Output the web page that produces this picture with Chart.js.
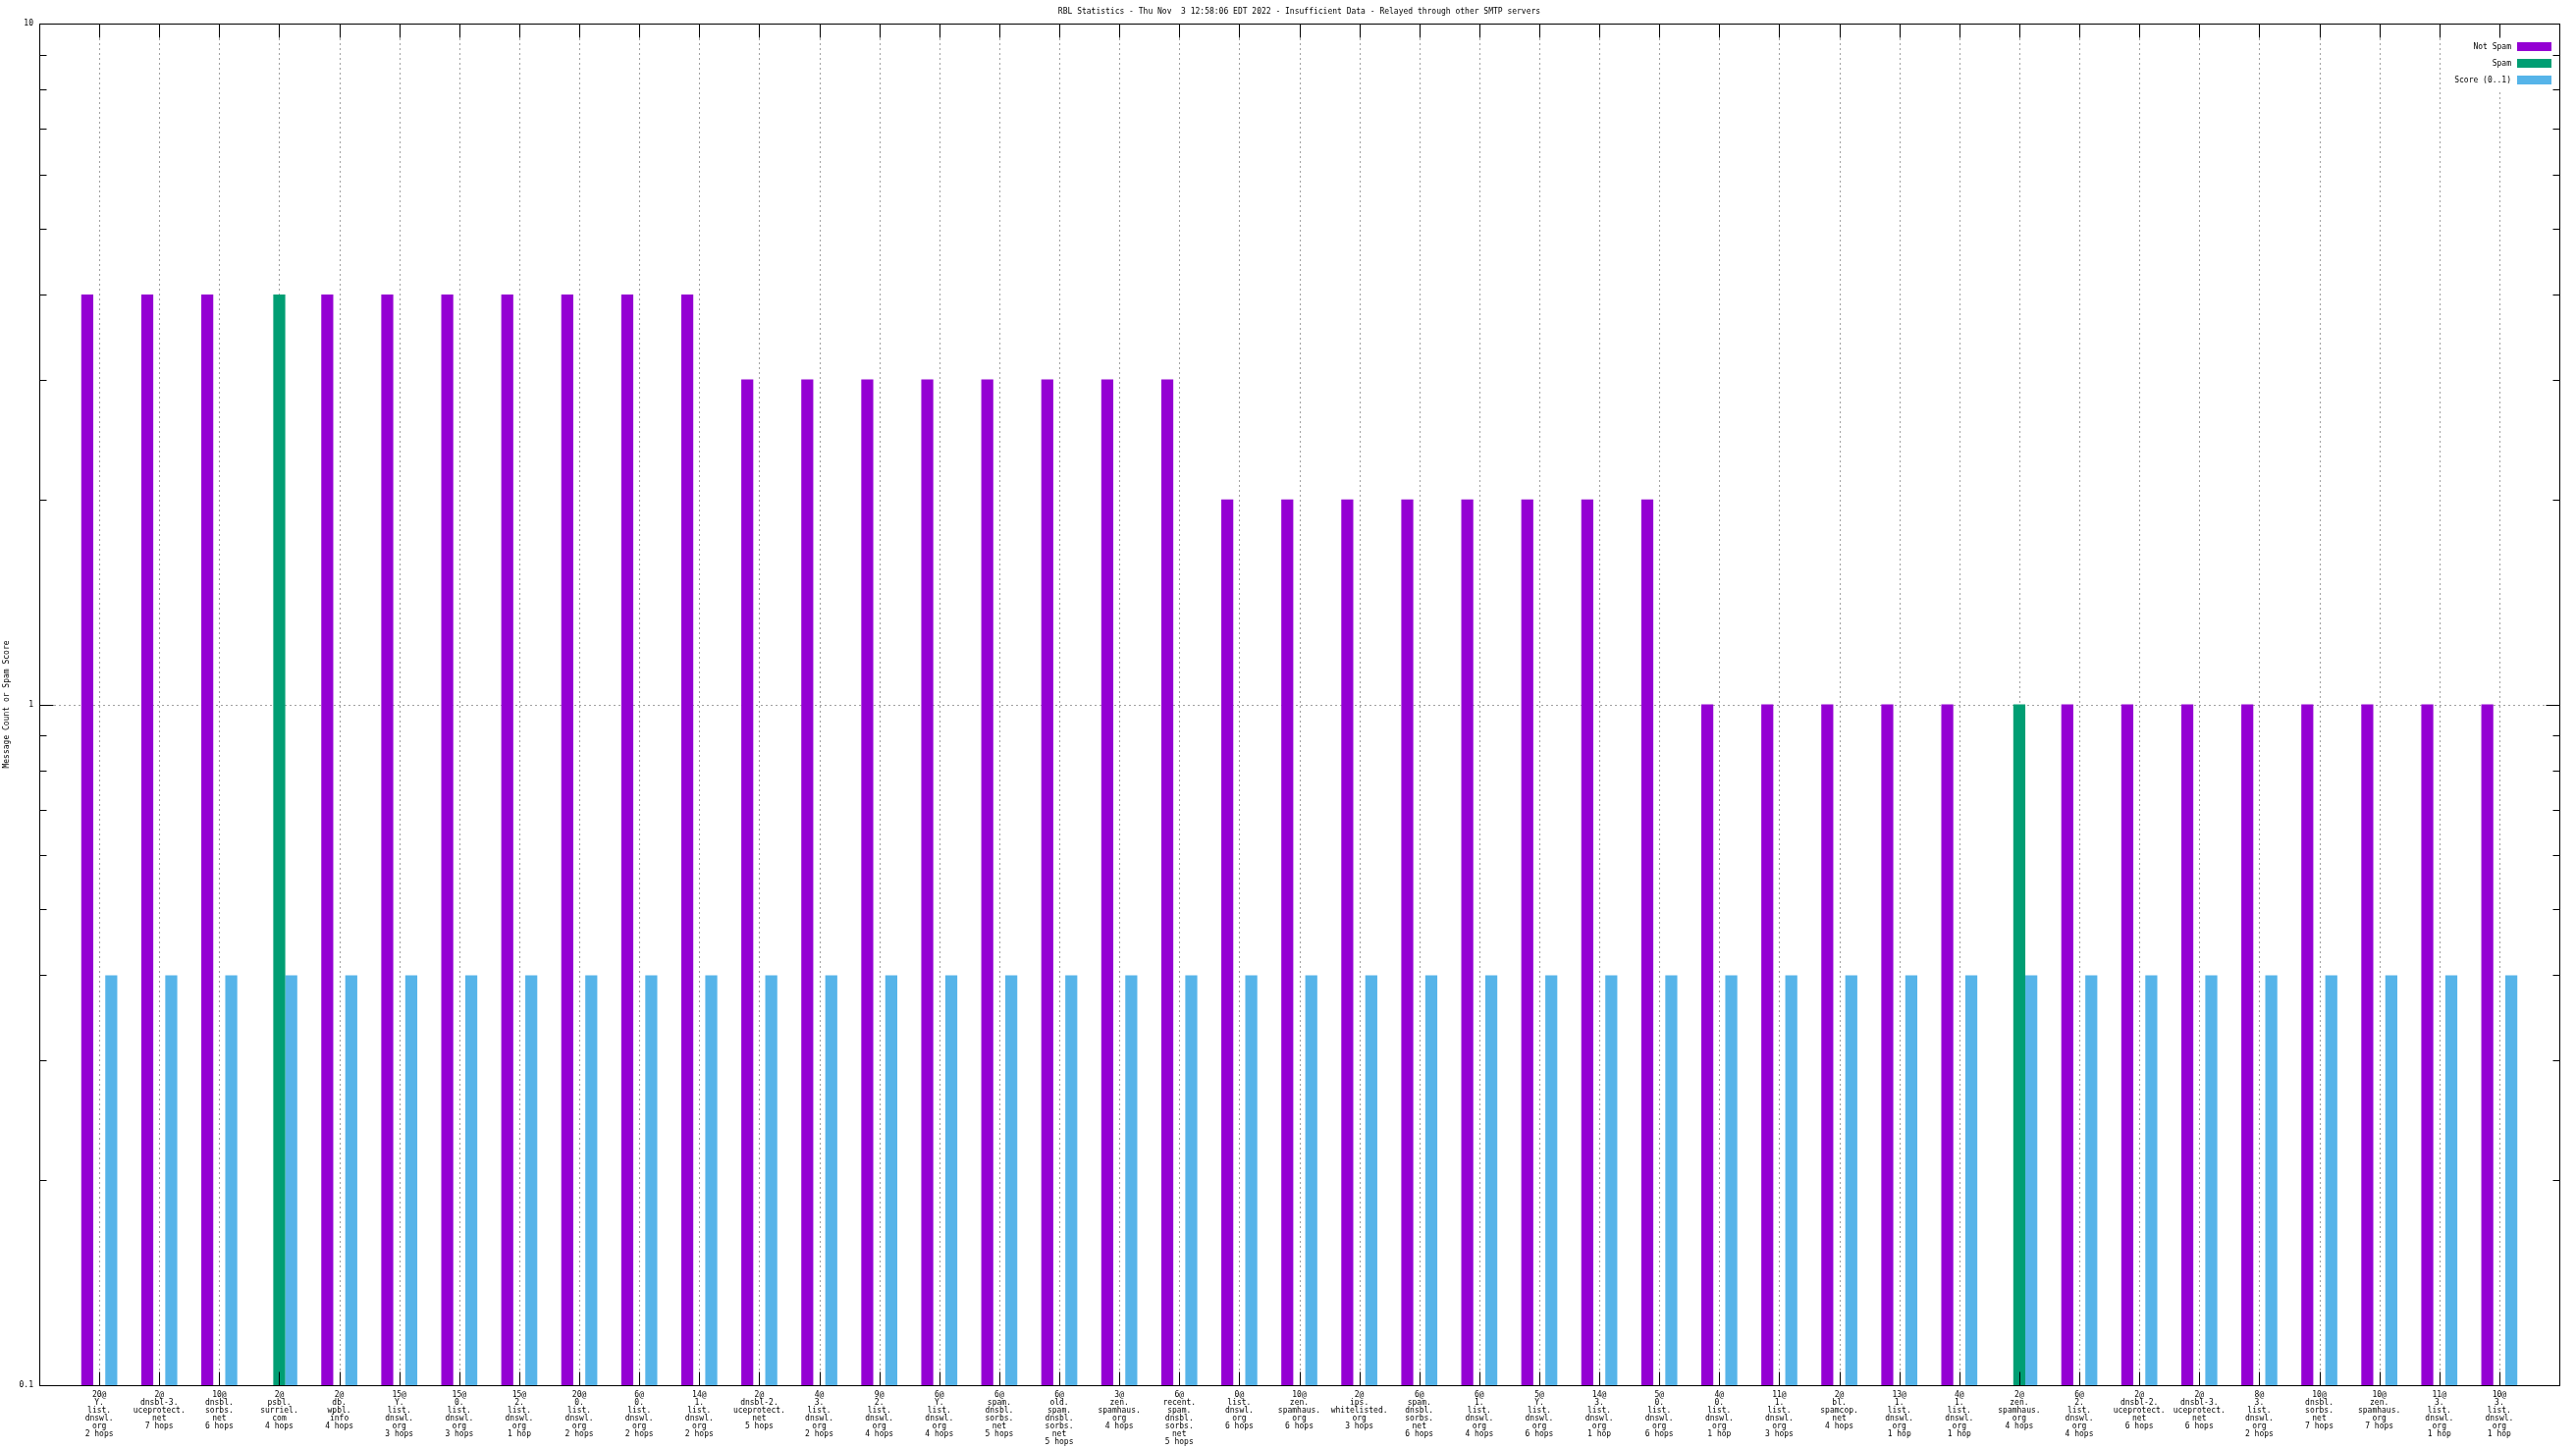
<!DOCTYPE html>
<html><head><meta charset="utf-8">
<script src="https://cdn.jsdelivr.net/npm/chart.js@4/dist/chart.umd.min.js"></script>
<style>html,body{margin:0;padding:0;background:#fff;overflow:hidden}canvas{display:block}</style>
</head><body>
<canvas id="c" width="2624" height="1476"></canvas>
<script>
const titleText = 'RBL Statistics - Thu Nov  3 12:58:06 EDT 2022 - Insufficient Data - Relayed through other SMTP servers';
const yAxisTitle = 'Message Count or Spam Score';
const seriesNames = ['Not Spam', 'Spam', 'Score (0..1)'];

const categories = [
  ['20@','Y.','list.','dnswl.','org','2 hops'],
  ['2@','dnsbl-3.','uceprotect.','net','7 hops'],
  ['10@','dnsbl.','sorbs.','net','6 hops'],
  ['2@','psbl.','surriel.','com','4 hops'],
  ['2@','db.','wpbl.','info','4 hops'],
  ['15@','Y.','list.','dnswl.','org','3 hops'],
  ['15@','0.','list.','dnswl.','org','3 hops'],
  ['15@','2.','list.','dnswl.','org','1 hop'],
  ['20@','0.','list.','dnswl.','org','2 hops'],
  ['6@','0.','list.','dnswl.','org','2 hops'],
  ['14@','1.','list.','dnswl.','org','2 hops'],
  ['2@','dnsbl-2.','uceprotect.','net','5 hops'],
  ['4@','3.','list.','dnswl.','org','2 hops'],
  ['9@','2.','list.','dnswl.','org','4 hops'],
  ['6@','Y.','list.','dnswl.','org','4 hops'],
  ['6@','spam.','dnsbl.','sorbs.','net','5 hops'],
  ['6@','old.','spam.','dnsbl.','sorbs.','net','5 hops'],
  ['3@','zen.','spamhaus.','org','4 hops'],
  ['6@','recent.','spam.','dnsbl.','sorbs.','net','5 hops'],
  ['0@','list.','dnswl.','org','6 hops'],
  ['10@','zen.','spamhaus.','org','6 hops'],
  ['2@','ips.','whitelisted.','org','3 hops'],
  ['6@','spam.','dnsbl.','sorbs.','net','6 hops'],
  ['6@','1.','list.','dnswl.','org','4 hops'],
  ['5@','Y.','list.','dnswl.','org','6 hops'],
  ['14@','3.','list.','dnswl.','org','1 hop'],
  ['5@','0.','list.','dnswl.','org','6 hops'],
  ['4@','0.','list.','dnswl.','org','1 hop'],
  ['11@','1.','list.','dnswl.','org','3 hops'],
  ['2@','bl.','spamcop.','net','4 hops'],
  ['13@','1.','list.','dnswl.','org','1 hop'],
  ['4@','1.','list.','dnswl.','org','1 hop'],
  ['2@','zen.','spamhaus.','org','4 hops'],
  ['6@','2.','list.','dnswl.','org','4 hops'],
  ['2@','dnsbl-2.','uceprotect.','net','6 hops'],
  ['2@','dnsbl-3.','uceprotect.','net','6 hops'],
  ['8@','3.','list.','dnswl.','org','2 hops'],
  ['10@','dnsbl.','sorbs.','net','7 hops'],
  ['10@','zen.','spamhaus.','org','7 hops'],
  ['11@','3.','list.','dnswl.','org','1 hop'],
  ['10@','3.','list.','dnswl.','org','1 hop']
];

const notSpam = [4,4,4,null,4,4,4,4,4,4,4, 3,3,3,3,3,3,3,3, 2,2,2,2,2,2,2,2, 1,1,1,1,1,null,1,1,1,1,1,1,1,1];
const spam    = [null,null,null,4,null,null,null,null,null,null,null, null,null,null,null,null,null,null,null, null,null,null,null,null,null,null,null, null,null,null,null,null,1,null,null,null,null,null,null,null,null];
const score   = [0.4,0.4,0.4,0.4,0.4,0.4,0.4,0.4,0.4,0.4,0.4, 0.4,0.4,0.4,0.4,0.4,0.4,0.4,0.4, 0.4,0.4,0.4,0.4,0.4,0.4,0.4,0.4, 0.4,0.4,0.4,0.4,0.4,0.4,0.4,0.4,0.4,0.4,0.4,0.4,0.4,0.4];

const yTickValues = [0.1, 1, 10];
const yMinorValues = [0.2,0.3,0.4,0.5,0.6,0.7,0.8,0.9,2,3,4,5,6,7,8,9];

const COLORS = ['#9400d3', '#009e73', '#56b4e9'];
const FONT = "'DejaVu Sans Mono', 'Liberation Mono', monospace";

const toPoints = arr => arr.map((v, i) => ({x: i, y: v}));

const gnuplotPlugin = {
  id: 'gnuplotDecor',
  beforeDatasetsDraw(chart) {
    const {ctx, chartArea: a, scales: {x, y}} = chart;
    ctx.save();
    ctx.strokeStyle = '#a0a0a0';
    ctx.lineWidth = 1;
    ctx.setLineDash([2, 3]);
    categories.forEach((c, i) => {
      const px = Math.round(x.getPixelForValue(i)) + 0.5;
      ctx.beginPath(); ctx.moveTo(px, a.top); ctx.lineTo(px, a.bottom); ctx.stroke();
    });
    yTickValues.forEach(v => {
      const py = Math.round(y.getPixelForValue(v)) + 0.5;
      ctx.beginPath(); ctx.moveTo(a.left, py); ctx.lineTo(a.right, py); ctx.stroke();
    });
    ctx.restore();
  },
  afterDatasetsDraw(chart) {
    const {ctx, chartArea: a, scales: {x, y}} = chart;
    ctx.save();
    // legend (opaque)
    ctx.fillStyle = '#fff';
    ctx.fillRect(a.right - 117, a.top + 1, 116, 67);
    ctx.font = '8px ' + FONT;
    ctx.textAlign = 'right';
    ctx.textBaseline = 'middle';
    chart.data.datasets.forEach((ds, i) => {
      const cy = a.top + 23.5 + i * 17;
      ctx.fillStyle = '#000';
      ctx.fillText(ds.label, a.right - 49, cy + 0.5);
      ctx.fillStyle = ds.backgroundColor;
      ctx.fillRect(a.right - 43, Math.round(cy - 4.5), 35, 9);
    });
    // border
    ctx.strokeStyle = '#000';
    ctx.lineWidth = 1;
    ctx.setLineDash([]);
    const L = Math.round(a.left) + 0.5, R = Math.round(a.right) + 0.5;
    const T = Math.round(a.top) + 0.5, B = Math.round(a.bottom) + 0.5;
    ctx.strokeRect(L, T, R - L, B - T);
    ctx.beginPath();
    categories.forEach((c, i) => {
      const px = Math.round(x.getPixelForValue(i)) + 0.5;
      ctx.moveTo(px, B); ctx.lineTo(px, B - 14);
      ctx.moveTo(px, T); ctx.lineTo(px, T + 14);
    });
    yTickValues.forEach(v => {
      const py = Math.round(y.getPixelForValue(v)) + 0.5;
      ctx.moveTo(L, py); ctx.lineTo(L + 14, py);
      ctx.moveTo(R, py); ctx.lineTo(R - 14, py);
    });
    yMinorValues.forEach(v => {
      const py = Math.round(y.getPixelForValue(v)) + 0.5;
      ctx.moveTo(L, py); ctx.lineTo(L + 7, py);
      ctx.moveTo(R, py); ctx.lineTo(R - 7, py);
    });
    ctx.stroke();
    // title
    ctx.fillStyle = '#000';
    ctx.textAlign = 'center';
    ctx.textBaseline = 'middle';
    ctx.font = '8px ' + FONT;
    ctx.fillText(titleText, (a.left + a.right) / 2, 12);
    ctx.restore();
  }
};

Chart.defaults.color = '#000';
Chart.defaults.font.family = FONT;

new Chart(document.getElementById('c'), {
  type: 'bar',
  data: {
    datasets: [
      {label: seriesNames[0], data: toPoints(notSpam), backgroundColor: COLORS[0]},
      {label: seriesNames[1], data: toPoints(spam), backgroundColor: COLORS[1]},
      {label: seriesNames[2], data: toPoints(score), backgroundColor: COLORS[2]}
    ]
  },
  options: {
    responsive: false,
    animation: false,
    devicePixelRatio: 1,
    layout: {padding: {top: 24, right: 17, left: 0, bottom: 0}},
    datasets: {bar: {barPercentage: 1.0, categoryPercentage: 0.6, borderWidth: 0}},
    plugins: {legend: {display: false}, title: {display: false}, tooltip: {enabled: false}},
    scales: {
      x: {
        type: 'linear',
        offset: false,
        min: -1, max: 41,
        grid: {display: false, drawTicks: false, offset: false},
        border: {display: false},
        afterBuildTicks: s => { s.ticks = categories.map((c, i) => ({value: i})); },
        afterFit: s => { s.height = 65; },
        ticks: {
          autoSkip: false, maxRotation: 0, minRotation: 0, padding: 6,
          font: {size: 8, lineHeight: '8px', family: FONT},
          callback: v => categories[v]
        }
      },
      y: {
        type: 'logarithmic',
        min: 0.1, max: 10,
        grid: {display: false, drawTicks: false},
        border: {display: false},
        afterBuildTicks: s => { s.ticks = yTickValues.map(v => ({value: v, major: true})); },
        afterFit: s => { s.width = 40; },
        ticks: {padding: 6, font: {size: 8, family: FONT}, callback: v => String(v)},
        title: {display: true, text: yAxisTitle, font: {size: 8, family: FONT}, padding: {top: 2, bottom: 0}}
      }
    }
  },
  plugins: [gnuplotPlugin]
});
</script>
</body></html>
